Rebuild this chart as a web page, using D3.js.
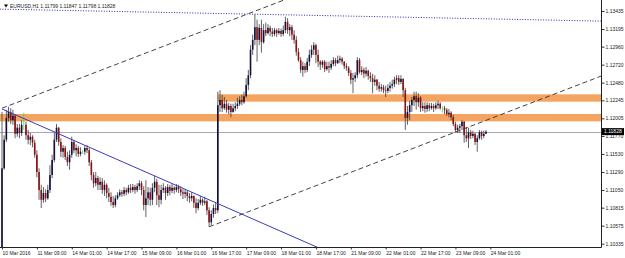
<!DOCTYPE html>
<html>
<head>
<meta charset="utf-8">
<script src="https://cdn.jsdelivr.net/npm/d3@7"></script>
<style>
  body { margin: 0; background: #fff; }
  svg { display: block; }
  text { font-family: "Liberation Sans", Arial, sans-serif; }
</style>
</head>
<body>
<div id="chart"></div>
<script>
// EURUSD H1, 10 Mar - 24 Mar 2016
var symbol = "EURUSD,H1";
var lastQuote = [1.11799, 1.11847, 1.11798, 1.11828]; // O H L C of the live bar
var firstOpen = 1.1025;

var closes = [
  1.1134, 1.1172, 1.1201, 1.1209, 1.1198, 1.1204, 1.1180, 1.1188, 1.1181, 1.1192,
  1.1192, 1.1178, 1.1172, 1.1176, 1.1168, 1.1152, 1.1129, 1.1105, 1.1092, 1.1101,
  1.1094, 1.1105, 1.1125, 1.1145, 1.1172, 1.1188, 1.1169, 1.1156, 1.1161, 1.1149,
  1.1142, 1.1152, 1.1169, 1.1158, 1.1161, 1.1153, 1.1156, 1.1156, 1.1161, 1.1158,
  1.1142, 1.1125, 1.1114, 1.1121, 1.1112, 1.1116, 1.1105, 1.1112, 1.1101, 1.1096,
  1.1089, 1.1085, 1.1094, 1.1098, 1.1102, 1.1100, 1.1105, 1.1102, 1.1108, 1.1105,
  1.1109, 1.1105, 1.1110, 1.1114, 1.1105, 1.1085, 1.1094, 1.1102, 1.1092, 1.1108,
  1.1116, 1.1098, 1.1092, 1.1105, 1.1108, 1.1101, 1.1109, 1.1104, 1.1108, 1.1105,
  1.1109, 1.1106, 1.1102, 1.1100, 1.1102, 1.1097, 1.1094, 1.1097, 1.1088, 1.1081,
  1.1088, 1.1092, 1.1088, 1.1090, 1.1078, 1.1062, 1.1073, 1.1081, 1.1078, 1.1218,
  1.1225, 1.1214, 1.1220, 1.1212, 1.1217, 1.1209, 1.1214, 1.1217, 1.1220, 1.1225,
  1.1222, 1.1230, 1.1245, 1.1258, 1.1292, 1.1305, 1.1322, 1.1305, 1.1321, 1.1302,
  1.1318, 1.1314, 1.1321, 1.1316, 1.1313, 1.1318, 1.1314, 1.1317, 1.1313, 1.1318,
  1.1329, 1.1318, 1.1322, 1.1312, 1.1305, 1.1289, 1.1278, 1.1265, 1.1270, 1.1265,
  1.1276, 1.1285, 1.1292, 1.1298, 1.1285, 1.1276, 1.1272, 1.1276, 1.1266, 1.1270,
  1.1268, 1.1273, 1.1278, 1.1274, 1.1278, 1.1280, 1.1276, 1.1270, 1.1268, 1.1261,
  1.1252, 1.1254, 1.1258, 1.1278, 1.1262, 1.1265, 1.1260, 1.1264, 1.1257, 1.1254,
  1.1249, 1.1252, 1.1244, 1.1240, 1.1242, 1.1238, 1.1237, 1.1241, 1.1244, 1.1246,
  1.1252, 1.1254, 1.1249, 1.1253, 1.1238, 1.1201, 1.1209, 1.1218, 1.1225, 1.1230,
  1.1222, 1.1228, 1.1214, 1.1217, 1.1213, 1.1218, 1.1214, 1.1217, 1.1214, 1.1218,
  1.1220, 1.1214, 1.1214, 1.1212, 1.1206, 1.1208, 1.1202, 1.1193, 1.1185, 1.1188,
  1.1190, 1.1196, 1.1178, 1.1174, 1.1182, 1.1177, 1.1180, 1.1169, 1.1174, 1.1182,
  1.1177, 1.11799, 1.11828
];

var highs = [
  1.1209, 1.1178, 1.1212, 1.1216, 1.1214, 1.1212, 1.1206, 1.1193, 1.1193, 1.1198,
  1.1208, 1.1196, 1.1185, 1.1181, 1.1178, 1.1172, 1.1158, 1.1134, 1.1112, 1.1109,
  1.1106, 1.1112, 1.1138, 1.1152, 1.1181, 1.1193, 1.1189, 1.1174, 1.1165, 1.1164,
  1.1156, 1.1158, 1.1176, 1.1172, 1.1166, 1.1164, 1.1162, 1.1158, 1.1164, 1.1165,
  1.1161, 1.1145, 1.1129, 1.1129, 1.1124, 1.1122, 1.1121, 1.1118, 1.1114, 1.1108,
  1.1102, 1.1097, 1.1098, 1.1102, 1.1106, 1.1105, 1.1109, 1.1108, 1.1112, 1.1113,
  1.1113, 1.1112, 1.1114, 1.1118, 1.1117, 1.1110, 1.1118, 1.1109, 1.1108, 1.1114,
  1.1124, 1.1120, 1.1112, 1.1112, 1.1114, 1.1110, 1.1113, 1.1112, 1.1113, 1.1110,
  1.1113, 1.1112, 1.1110, 1.1106, 1.1106, 1.1105, 1.1101, 1.1102, 1.1098, 1.1094,
  1.1093, 1.1097, 1.1094, 1.1096, 1.1092, 1.1082, 1.1078, 1.1086, 1.1088, 1.1236,
  1.1238, 1.1232, 1.1229, 1.1225, 1.1221, 1.1220, 1.1220, 1.1222, 1.1228, 1.1230,
  1.1232, 1.1236, 1.1254, 1.1265, 1.1298, 1.1312, 1.1339, 1.1332, 1.1326, 1.1332,
  1.1326, 1.1328, 1.1326, 1.1324, 1.1321, 1.1321, 1.1320, 1.1321, 1.1320, 1.1324,
  1.1336, 1.1334, 1.1326, 1.1325, 1.1318, 1.1310, 1.1294, 1.1282, 1.1276, 1.1274,
  1.1281, 1.1292, 1.1298, 1.1302, 1.1300, 1.1292, 1.1278, 1.1278, 1.1278, 1.1276,
  1.1276, 1.1278, 1.1282, 1.1281, 1.1284, 1.1284, 1.1282, 1.1277, 1.1274, 1.1270,
  1.1265, 1.1261, 1.1262, 1.1282, 1.1281, 1.1270, 1.1268, 1.1269, 1.1265, 1.1262,
  1.1260, 1.1258, 1.1253, 1.1249, 1.1246, 1.1245, 1.1244, 1.1246, 1.1249, 1.1252,
  1.1256, 1.1258, 1.1258, 1.1258, 1.1254, 1.1241, 1.1217, 1.1224, 1.1229, 1.1236,
  1.1236, 1.1234, 1.1230, 1.1222, 1.1222, 1.1222, 1.1221, 1.1221, 1.1220, 1.1222,
  1.1224, 1.1222, 1.1217, 1.1217, 1.1214, 1.1213, 1.1210, 1.1205, 1.1196, 1.1192,
  1.1193, 1.1198, 1.1197, 1.1189, 1.1188, 1.1185, 1.1184, 1.1181, 1.1178, 1.1185,
  1.1184, 1.1184, 1.11847
];

var lows = [
  1.1019, 1.1132, 1.1169, 1.1196, 1.1193, 1.1192, 1.1174, 1.1176, 1.1174, 1.1177,
  1.1185, 1.1172, 1.1166, 1.1165, 1.1162, 1.1148, 1.1122, 1.1092, 1.1081, 1.1088,
  1.1089, 1.1092, 1.1101, 1.1121, 1.1142, 1.1169, 1.1164, 1.1149, 1.1148, 1.1145,
  1.1137, 1.1132, 1.1148, 1.1154, 1.1150, 1.1149, 1.1150, 1.1153, 1.1152, 1.1154,
  1.1137, 1.1118, 1.1108, 1.1110, 1.1105, 1.1105, 1.1100, 1.1097, 1.1094, 1.1089,
  1.1084, 1.1081, 1.1082, 1.1092, 1.1096, 1.1096, 1.1097, 1.1098, 1.1100, 1.1101,
  1.1102, 1.1100, 1.1102, 1.1105, 1.1098, 1.1078, 1.1069, 1.1085, 1.1084, 1.1085,
  1.1102, 1.1085, 1.1082, 1.1086, 1.1101, 1.1092, 1.1097, 1.1098, 1.1101, 1.1100,
  1.1102, 1.1101, 1.1097, 1.1093, 1.1094, 1.1090, 1.1088, 1.1090, 1.1081, 1.1074,
  1.1078, 1.1085, 1.1084, 1.1085, 1.1072, 1.1056, 1.1058, 1.1068, 1.1073, 1.1074,
  1.1209, 1.1209, 1.1212, 1.1208, 1.1206, 1.1202, 1.1208, 1.1210, 1.1213, 1.1217,
  1.1218, 1.1220, 1.1228, 1.1238, 1.1254, 1.1285, 1.1298, 1.1276, 1.1298, 1.1288,
  1.1300, 1.1310, 1.1312, 1.1310, 1.1309, 1.1310, 1.1309, 1.1312, 1.1309, 1.1310,
  1.1314, 1.1313, 1.1310, 1.1305, 1.1300, 1.1284, 1.1276, 1.1261, 1.1256, 1.1261,
  1.1262, 1.1270, 1.1281, 1.1285, 1.1274, 1.1269, 1.1265, 1.1268, 1.1262, 1.1264,
  1.1261, 1.1265, 1.1270, 1.1270, 1.1273, 1.1274, 1.1272, 1.1266, 1.1264, 1.1257,
  1.1246, 1.1234, 1.1249, 1.1254, 1.1260, 1.1258, 1.1254, 1.1256, 1.1252, 1.1249,
  1.1234, 1.1244, 1.1238, 1.1236, 1.1236, 1.1234, 1.1229, 1.1234, 1.1236, 1.1240,
  1.1242, 1.1246, 1.1245, 1.1246, 1.1229, 1.1185, 1.1192, 1.1198, 1.1209, 1.1217,
  1.1212, 1.1216, 1.1209, 1.1210, 1.1208, 1.1209, 1.1210, 1.1212, 1.1209, 1.1212,
  1.1213, 1.1212, 1.1208, 1.1206, 1.1204, 1.1202, 1.1198, 1.1190, 1.1182, 1.1181,
  1.1181, 1.1185, 1.1168, 1.1169, 1.1161, 1.1173, 1.1174, 1.1165, 1.1156, 1.1172,
  1.1172, 1.1174, 1.11798
];

var timeLabels = ["10 Mar 2016", "11 Mar 09:00", "14 Mar 01:00", "14 Mar 17:00", "15 Mar 09:00",
  "16 Mar 01:00", "16 Mar 17:00", "17 Mar 09:00", "18 Mar 01:00", "18 Mar 17:00",
  "21 Mar 09:00", "22 Mar 01:00", "22 Mar 17:00", "23 Mar 09:00", "24 Mar 01:00"];
var barsPerLabel = 16;

var priceTicks = [1.13435, 1.13195, 1.12960, 1.12720, 1.12480, 1.12245, 1.12005,
  1.11770, 1.11530, 1.11290, 1.11050, 1.10815, 1.10575, 1.10335];

// support / resistance rectangles: [first bar, top price, bottom price]
var zones = [[99, 1.12325, 1.12227], [-1, 1.12063, 1.11965]];

// drawn objects: two points each, [bar, price]
var channelUpper = [[0, 1.1214], [140, 1.1370]];
var channelLower = [[95, 1.1056], [275, 1.1257]];
var blueTrend = [[0, 1.1213], [146, 1.1027]];
var dottedLine = [[-1, 1.1346], [275, 1.1330]];

var W = 625, H = 258;
var plotRight = 601, plotBottom = 247;

var svg = d3.select("#chart").append("svg")
    .attr("width", W)
    .attr("height", H);

var x = d3.scaleLinear().domain([0, barsPerLabel]).range([2, 36.88]);
var y = d3.scaleLinear().domain([1.10335, 1.13435]).range([243.7, 11]);

svg.append("clipPath").attr("id", "plot")
  .append("rect").attr("x", 0).attr("y", 0).attr("width", plotRight).attr("height", plotBottom);

var plot = svg.append("g").attr("clip-path", "url(#plot)");

// orange zones
plot.selectAll("rect.zone")
    .data(zones)
    .enter()
    .append("rect")
    .attr("class", "zone")
    .attr("x", function (d) { return x(d[0]); })
    .attr("y", function (d) { return y(d[1]); })
    .attr("width", function (d) { return plotRight - x(d[0]); })
    .attr("height", function (d) { return y(d[2]) - y(d[1]); })
    .attr("fill", "#f4a460");

// current price line
plot.append("line")
    .attr("x1", 0).attr("x2", plotRight)
    .attr("y1", Math.round(y(lastQuote[3])) + 0.5)
    .attr("y2", Math.round(y(lastQuote[3])) + 0.5)
    .attr("stroke", "#a9a9b4")
    .attr("stroke-width", 1);

//Build candles, open is previous close
var n = closes.length;
var bars = d3.range(n).map(function (i) {
  var o = i === 0 ? firstOpen : closes[i - 1];
  if (i === n - 1) o = lastQuote[0];
  var c = closes[i];
  return { i: i, o: o, c: c, h: Math.max(highs[i], o, c), l: Math.min(lows[i], o, c) };
});

function isDoji(d) { return Math.abs(d.o - d.c) < 1e-7; }

var candles = plot.selectAll("g.candle")
    .data(bars)
    .enter()
    .append("g")
    .attr("class", "candle");

candles.append("line")
    .attr("x1", function (d) { return x(d.i); })
    .attr("x2", function (d) { return x(d.i); })
    .attr("y1", function (d) { return y(d.h); })
    .attr("y2", function (d) { return y(d.l); })
    .attr("stroke", function (d) { return isDoji(d) ? "#3fd93f" : "#3a3a3a"; })
    .attr("stroke-width", 0.8);

candles.filter(function (d) { return !isDoji(d); })
    .append("rect")
    .attr("x", function (d) { return x(d.i) - 0.8; })
    .attr("y", function (d) { return y(Math.max(d.o, d.c)); })
    .attr("width", 1.6)
    .attr("height", function (d) { return Math.max(0.6, Math.abs(y(d.o) - y(d.c))); })
    .attr("fill", function (d) { return d.c > d.o ? "#101040" : "#8b1010"; });

// trend lines
var line = d3.line()
    .x(function (d) { return x(d[0]); })
    .y(function (d) { return y(d[1]); });

plot.append("path").datum(blueTrend)
    .attr("d", line).attr("fill", "none")
    .attr("stroke", "#3b3bbd").attr("stroke-width", 1);

plot.selectAll("path.channel")
    .data([channelUpper, channelLower])
    .enter()
    .append("path")
    .attr("class", "channel")
    .attr("d", line).attr("fill", "none")
    .attr("stroke", "#303030").attr("stroke-width", 0.9)
    .attr("stroke-dasharray", "5,3");

plot.append("path").datum(dottedLine)
    .attr("d", line).attr("fill", "none")
    .attr("stroke", "#2a2aa8").attr("stroke-width", 1)
    .attr("stroke-dasharray", "1,1.6");

// price axis
var yAxis = d3.axisRight(y)
    .tickValues(priceTicks)
    .tickSize(3)
    .tickPadding(1)
    .tickFormat(d3.format(".5f"));

var gy = svg.append("g")
    .attr("transform", "translate(" + (plotRight + 0.5) + ",0)")
    .call(yAxis);
gy.select(".domain").remove();
gy.selectAll("text").attr("font-size", "5px").attr("fill", "#222");
gy.selectAll("line").attr("stroke", "#333");

// time axis
var xAxis = d3.axisBottom(x)
    .tickValues(d3.range(0, timeLabels.length).map(function (k) { return k * barsPerLabel; }))
    .tickSize(2)
    .tickPadding(1)
    .tickFormat(function (d, k) { return timeLabels[k]; });

var gx = svg.append("g")
    .attr("transform", "translate(0," + (plotBottom + 0.5) + ")")
    .call(xAxis);
gx.select(".domain").remove();
gx.selectAll("text").attr("font-size", "5px").attr("fill", "#222")
    .attr("text-anchor", "start").attr("dy", "0.9em");
gx.selectAll("line").attr("stroke", "#333");

// frame of the plot
svg.append("line")
    .attr("x1", plotRight + 0.5).attr("x2", plotRight + 0.5)
    .attr("y1", 0).attr("y2", plotBottom + 0.5)
    .attr("stroke", "#222");
svg.append("line")
    .attr("x1", 0).attr("x2", plotRight + 0.5)
    .attr("y1", plotBottom + 0.5).attr("y2", plotBottom + 0.5)
    .attr("stroke", "#222");

// live price box
var yLast = y(lastQuote[3]);
svg.append("rect")
    .attr("x", plotRight + 1)
    .attr("y", yLast - 3.5)
    .attr("width", 22)
    .attr("height", 7)
    .attr("fill", "#000");
svg.append("text")
    .attr("x", plotRight + 3)
    .attr("y", yLast + 1.8)
    .attr("font-size", "5px")
    .attr("fill", "#fff")
    .text(d3.format(".5f")(lastQuote[3]));

// header
svg.append("path")
    .attr("d", "M4,4.5 L8,4.5 L6,7.5 Z")
    .attr("fill", "#000");
svg.append("text")
    .attr("x", 10)
    .attr("y", 8)
    .attr("font-size", "5px")
    .attr("fill", "#222")
    .text(symbol + "  " + lastQuote.map(d3.format(".5f")).join(" "));
</script>
</body>
</html>
